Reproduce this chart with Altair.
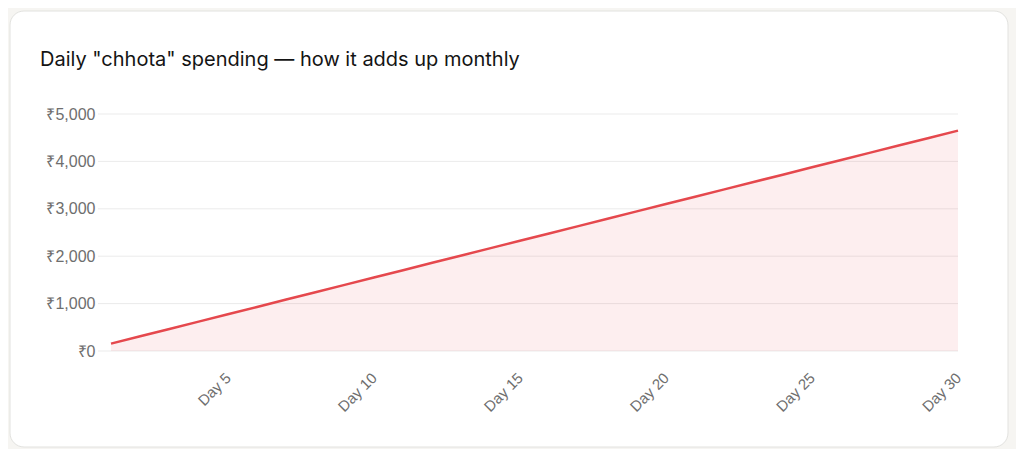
import altair as alt
import pandas as pd

days = list(range(1, 31))
cumulative = [155 * d for d in days]
x_ticks = [5, 10, 15, 20, 25, 30]
y_ticks = [0, 1000, 2000, 3000, 4000, 5000]
title_text = 'Daily "chhota" spending — how it adds up monthly'

df = pd.DataFrame({"day": days, "amount": cumulative})
grid_df = pd.DataFrame({"amount": y_ticks})

LINE = "#e5484d"
GRID = "#ebebeb"
LABEL = "#6e6e6e"

card = alt.Chart(alt.Data(values=[{"a": 1}])).mark_rect(
    fill="white", stroke="#e2e2df", strokeWidth=1, cornerRadius=14, clip=False
).encode(
    x=alt.value(-101), x2=alt.value(897), y=alt.value(-103), y2=alt.value(333)
)

title = alt.Chart(alt.Data(values=[{"t": title_text}])).mark_text(
    align="left", baseline="alphabetic", font="Inter", fontSize=20,
    fontWeight=400, color="#141414", clip=False
).encode(text="t:N", x=alt.value(-71), y=alt.value(-48))

xenc = alt.X(
    "day:Q",
    scale=alt.Scale(domain=[1, 30], nice=False, zero=False),
    axis=alt.Axis(
        values=x_ticks, labelExpr="'Day ' + datum.value", labelAngle=-45,
        labelAlign="right", labelBaseline="middle", labelPadding=24,
        ticks=False, grid=False, domain=False, title=None, zindex=1,
        labelFont="Liberation Sans", labelFontSize=15, labelColor=LABEL,
    ),
)
yenc = alt.Y(
    "amount:Q",
    scale=alt.Scale(domain=[0, 5000], nice=False),
    axis=alt.Axis(
        values=y_ticks, labelExpr="'₹' + format(datum.value, ',')",
        grid=False, ticks=False, domain=False, labelPadding=16, title=None, zindex=1,
        labelFont="Liberation Sans", labelFontSize=16, labelColor=LABEL,
    ),
)

grid = alt.Chart(grid_df).mark_rule(color=GRID, strokeWidth=1, clip=False).encode(
    y="amount:Q", x=alt.value(-13), x2=alt.value(847)
)
area = alt.Chart(df).mark_area(color=LINE, opacity=0.09).encode(x=xenc, y=yenc)
line = alt.Chart(df).mark_line(color=LINE, strokeWidth=2.5).encode(x="day:Q", y="amount:Q")

chart = alt.layer(card, title, grid, area, line).properties(
    width=847, height=237,
    autosize=alt.AutoSizeParams(type="none"),
    padding={"left": 103, "top": 106, "right": 58, "bottom": 98},
    background="#f6f5f2",
).configure_view(stroke=None)

chart.save("out.html", embed_options={"renderer": "svg", "actions": False})
